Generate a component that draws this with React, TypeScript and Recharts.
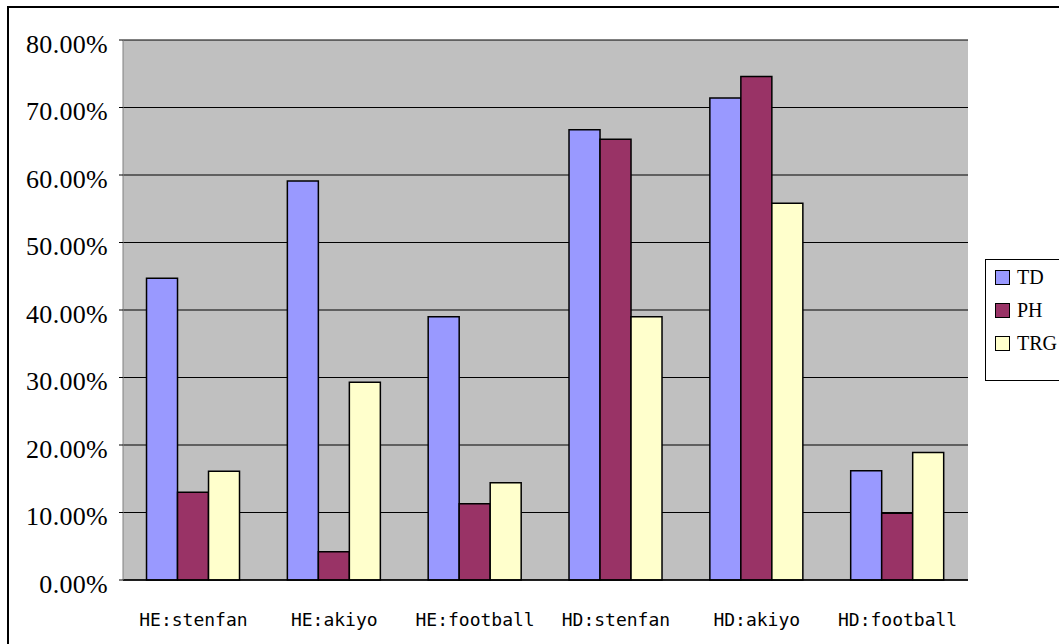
import React from 'react';
import { BarChart, Bar, XAxis, YAxis, CartesianGrid, Legend } from 'recharts';

const categories = ['HE:stenfan', 'HE:akiyo', 'HE:football', 'HD:stenfan', 'HD:akiyo', 'HD:football'];
const tdValues = [0.447, 0.591, 0.39, 0.667, 0.714, 0.162];
const phValues = [0.13, 0.042, 0.113, 0.653, 0.746, 0.099];
const trgValues = [0.161, 0.293, 0.144, 0.39, 0.558, 0.189];
const yTicks = [0, 0.1, 0.2, 0.3, 0.4, 0.5, 0.6, 0.7, 0.8];

const seriesInfo = [
  { key: 'TD', color: '#9999FF' },
  { key: 'PH', color: '#993366' },
  { key: 'TRG', color: '#FFFFCC' },
];

const data = categories.map((c, i) => ({
  name: c,
  TD: tdValues[i],
  PH: phValues[i],
  TRG: trgValues[i],
}));

const YTick = (props: any) => {
  const { x, y, payload } = props;
  return (
    <text
      x={x}
      y={y + 7}
      textAnchor="end"
      dominantBaseline="middle"
      fontFamily="'Liberation Serif', 'DejaVu Serif', serif"
      fontSize={26}
      letterSpacing={0.3}
      fill="#000"
    >
      {(payload.value * 100).toFixed(2) + '%'}
    </text>
  );
};

const LegendContent = () => (
  <div
    style={{
      border: '1px solid #000',
      background: '#fff',
      width: 90,
      height: 122,
      boxSizing: 'border-box',
      paddingTop: 1,
      paddingLeft: 9,
    }}
  >
    {seriesInfo.map((s) => (
      <div key={s.key} style={{ display: 'flex', alignItems: 'center', height: 33 }}>
        <div
          style={{
            width: 13,
            height: 13,
            background: s.color,
            border: '1px solid #000',
            marginRight: 7,
          }}
        />
        <span
          style={{
            fontFamily: "'Liberation Serif', 'DejaVu Serif', serif",
            fontSize: 20,
            color: '#000',
            whiteSpace: 'nowrap',
          }}
        >
          {s.key}
        </span>
      </div>
    ))}
  </div>
);

export default function App() {
  return (
    <div
      style={{
        position: 'absolute',
        left: 0,
        top: 0,
        width: 1059,
        height: 644,
        overflow: 'hidden',
        background: '#fff',
      }}
    >
      <div
        style={{
          position: 'absolute',
          left: 7,
          top: 6,
          width: 1120,
          height: 720,
          border: '2px solid #000',
        }}
      />
      <div style={{ position: 'absolute', left: 0, top: 0 }}>
        <BarChart
          width={1059}
          height={644}
          data={data}
          margin={{ top: 40, right: 91, bottom: 0, left: 8 }}
          barCategoryGap="16.7%"
          barGap={0}
        >
          <CartesianGrid
            vertical={false}
            horizontal={true}
            stroke="#000"
            strokeWidth={1}
            fill="#C0C0C0"
            fillOpacity={1}
          />
          <XAxis
            dataKey="name"
            axisLine={{ stroke: '#000', strokeWidth: 1.5 }}
            tickLine={false}
            tickSize={6}
            tickMargin={27}
            height={64}
            interval={0}
            tick={{
              fontFamily: "'DejaVu Sans Mono', 'Liberation Mono', monospace",
              fontSize: 18,
              fill: '#000',
            }}
          />
          <XAxis
            xAxisId="top"
            orientation="top"
            dataKey="name"
            axisLine={{ stroke: '#808080', strokeWidth: 1 }}
            tick={false}
            tickLine={false}
            height={0}
          />
          <YAxis
            domain={[0, 0.8]}
            ticks={yTicks}
            axisLine={{ stroke: '#808080', strokeWidth: 1 }}
            tickLine={{ stroke: '#000' }}
            tickSize={4}
            tickMargin={11}
            width={115}
            tick={<YTick />}
            interval={0}
          />
          <YAxis
            yAxisId="right"
            orientation="right"
            domain={[0, 0.8]}
            axisLine={{ stroke: '#808080', strokeWidth: 1 }}
            tick={false}
            tickLine={false}
            width={0}
          />
          <Legend
            layout="vertical"
            align="center"
            verticalAlign="middle"
            content={<LegendContent />}
            wrapperStyle={{ left: 985, top: 259, width: 90, height: 122 }}
          />
          {seriesInfo.map((s) => (
            <Bar
              key={s.key}
              dataKey={s.key}
              fill={s.color}
              stroke="#000"
              strokeWidth={1.5}
              isAnimationActive={false}
            />
          ))}
        </BarChart>
      </div>
    </div>
  );
}
